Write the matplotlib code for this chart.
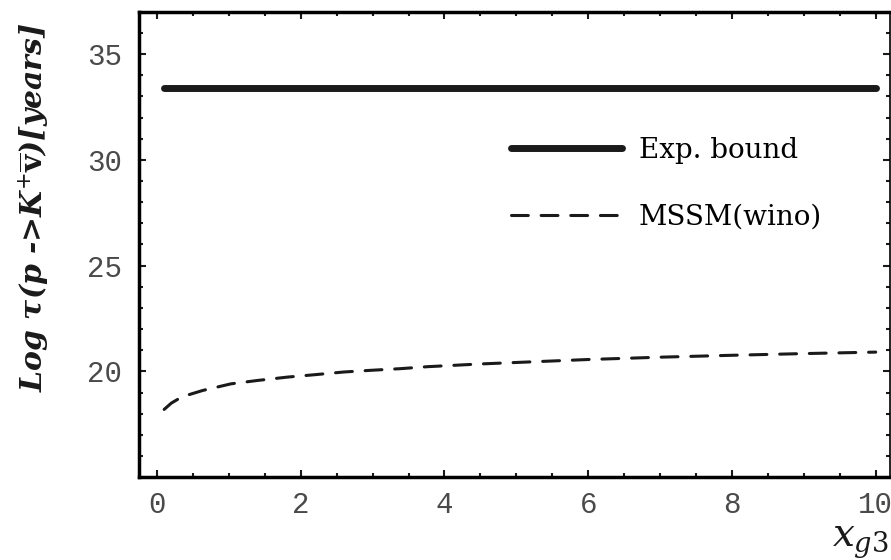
import numpy as np
import matplotlib
matplotlib.use("Agg")
import matplotlib.pyplot as plt
from matplotlib.ticker import MultipleLocator

plt.rcParams['mathtext.fontset'] = 'custom'
plt.rcParams['mathtext.rm'] = 'DejaVu Serif'
plt.rcParams['mathtext.it'] = 'DejaVu Serif:italic'
plt.rcParams['mathtext.bf'] = 'DejaVu Serif:bold'

# experimental bound
bound_x = [0.1, 10.0]
bound_y = [33.4, 33.4]

# MSSM (wino) prediction
mssm_x = [0.1, 0.2, 0.35, 0.64, 1.03, 1.4, 1.82, 2.19, 2.6, 2.98, 3.4, 3.76,
          4.5, 5.0, 6.0, 7.0, 8.0, 9.0, 10.0]
mssm_y = [18.2, 18.5, 18.8, 19.1, 19.41, 19.57, 19.73, 19.84, 19.97, 20.05,
          20.13, 20.22, 20.35, 20.42, 20.56, 20.67, 20.76, 20.84, 20.91]

xticks = [0, 2, 4, 6, 8, 10]
yticks = [20, 25, 30, 35]

fig = plt.figure(figsize=(8.91, 5.6), dpi=100)
ax = fig.add_axes([0.156, 0.148, 0.843, 0.831])

ax.plot(bound_x, bound_y, color='#1a1a1a', lw=5, solid_capstyle='round',
        label='Exp. bound')
ax.plot(mssm_x, mssm_y, color='#1a1a1a', lw=2.2, dashes=(5.5, 4.2),
        dash_capstyle='round', label='MSSM(wino)')

ax.set_xlim(-0.25, 10.2)
ax.set_ylim(15, 37)
ax.set_xticks(xticks)
ax.set_yticks(yticks)
ax.xaxis.set_minor_locator(MultipleLocator(0.5))
ax.yaxis.set_minor_locator(MultipleLocator(1))
ax.tick_params(which='both', direction='in', top=True, right=True,
               width=1.5, color='#1a1a1a')
ax.tick_params(which='major', length=5)
ax.tick_params(which='minor', length=3)
ax.tick_params(axis='x', pad=10)
ax.tick_params(axis='y', pad=12)
for lab in ax.get_xticklabels() + ax.get_yticklabels():
    lab.set_fontfamily('Liberation Mono')
    lab.set_fontsize(21)
    lab.set_color('#4a4a4a')

for side in ['left', 'bottom', 'top']:
    ax.spines[side].set_linewidth(2.5)
ax.spines['right'].set_linewidth(1.2)

ax.set_ylabel(r'Log τ(p ->K$^{+}\overline{\mathbf{v}}$)[years]',
              family='DejaVu Serif', style='italic', weight='bold',
              fontsize=21.5, color='#1a1a1a')
ax.yaxis.set_label_coords(-0.117, 0.58)
fig.text(0.998, 0.0, r'$x_{g3}$', ha='right', va='bottom',
         fontsize=28, color='#1a1a1a')

ax.legend(loc='upper left', bbox_to_anchor=(0.462, 0.785), frameon=False,
          prop={'family': 'DejaVu Serif', 'size': 20},
          handlelength=4.0, handletextpad=0.6, labelspacing=1.45)

fig.savefig('out.png', dpi=100)
